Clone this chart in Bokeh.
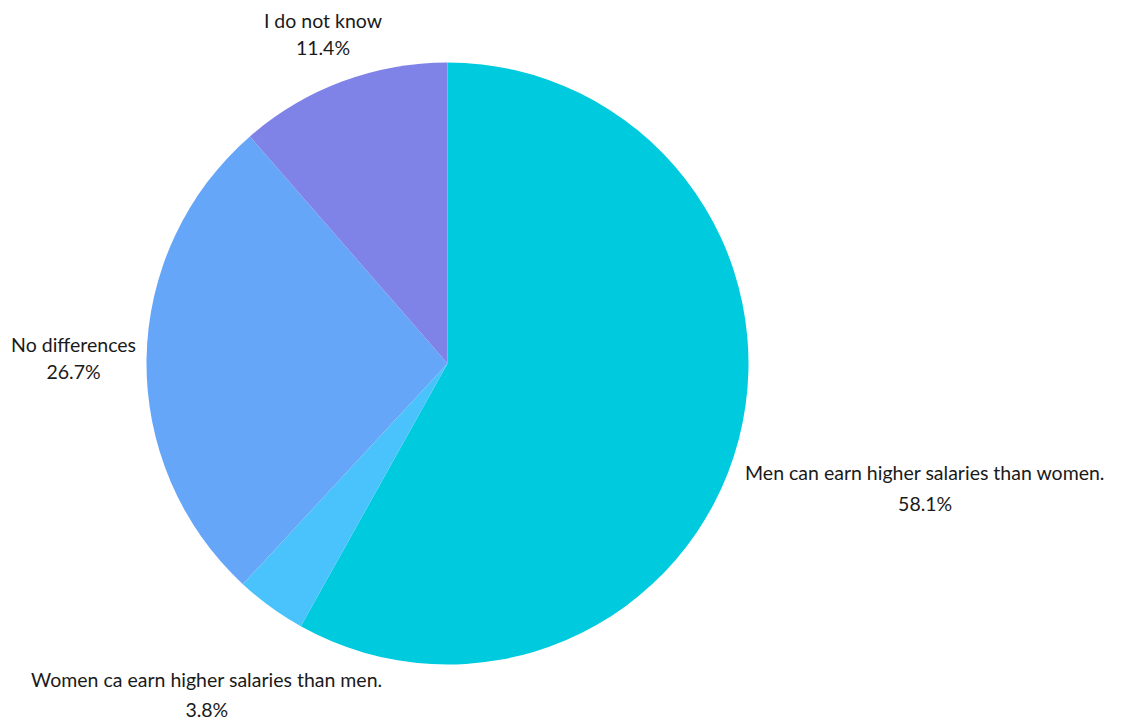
import math
from bokeh.plotting import figure
from bokeh.models import Range1d, ColumnDataSource
from bokeh.core.properties import value
from bokeh.embed import file_html
from bokeh.resources import INLINE

# ---- data ----
categories = ["Men can earn higher salaries than women.",
              "Women ca earn higher salaries than men.",
              "No differences",
              "I do not know"]
shares = [58.1, 3.8, 26.7, 11.4]
pct_labels = ["58.1%", "3.8%", "26.7%", "11.4%"]
colors = ["#00CADE", "#4AC3FC", "#65A6F9", "#7F82E7"]

# ---- layout ----
W, H = 1123, 722
cx, cy = 447, H - 363
R = 301
gap = 20
# nudges applied to label block centre (screen px, +x right, +y down)
nudges = [(167, 28), (-52, 56), (-53, -14), (-12, -42)]
line_step = [31, 30, 27, 27]

total = sum(shares)
starts, ends, name_x, name_y, pct_x, pct_y = [], [], [], [], [], []
cum = 0.0
for i, s in enumerate(shares):
    a0 = cum / total * 2 * math.pi
    cum += s
    a1 = cum / total * 2 * math.pi
    starts.append(math.pi / 2 - a0)
    ends.append(math.pi / 2 - a1)
    mid = (a0 + a1) / 2
    ax = cx + (R + gap) * math.sin(mid)
    ay = cy + (R + gap) * math.cos(mid)
    bx = ax + nudges[i][0]
    by = ay - nudges[i][1]
    name_x.append(bx)
    name_y.append(by)
    pct_x.append(bx)
    pct_y.append(by - line_step[i])

src = ColumnDataSource(dict(start=starts, end=ends, color=colors))

p = figure(width=W, height=H, x_range=Range1d(0, W), y_range=Range1d(0, H),
           output_backend="svg", toolbar_location=None, min_border=0)
p.axis.visible = False
p.grid.visible = False
p.outline_line_color = None
p.background_fill_color = "white"

p.wedge(x=cx, y=cy, radius=R, start_angle="start", end_angle="end",
        direction="clock", fill_color="color", line_color=None, source=src)

font = value("Lato")
p.text(x=name_x, y=name_y, text=categories, text_align="center",
       text_baseline="middle", text_font=font, text_font_size="19.5px",
       text_color="#1a1a1a")
p.text(x=pct_x, y=pct_y, text=pct_labels, text_align="center",
       text_baseline="middle", text_font=font, text_font_size="19.5px",
       text_color="#1a1a1a")

open("out.html", "w").write(file_html(p, INLINE))
